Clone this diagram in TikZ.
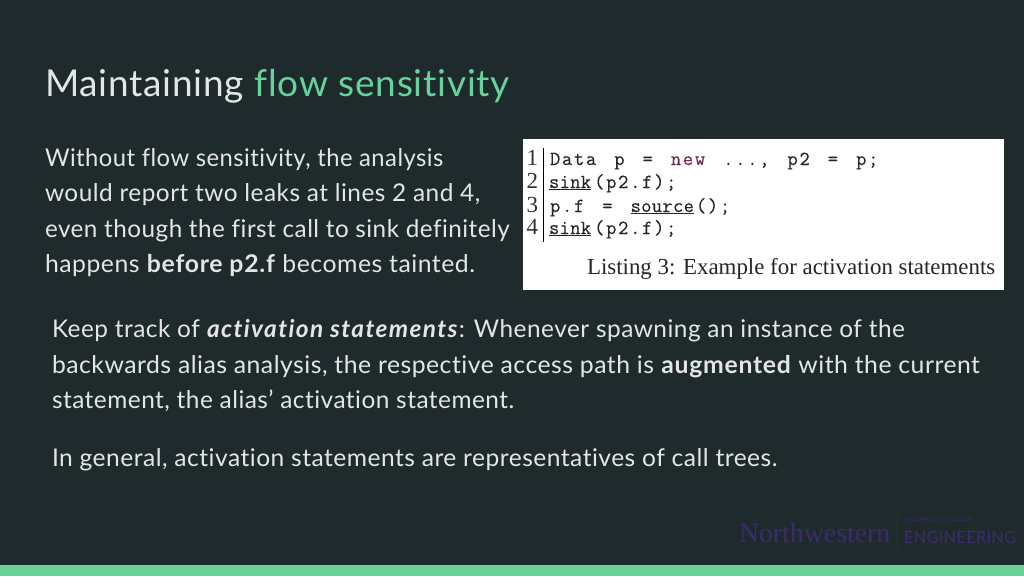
\documentclass[tikz,border=0pt]{standalone}
\usepackage{fontspec}
\setmainfont{Lato}[LetterSpace=2.0,Ligatures=CommonOff,BoldFeatures={LetterSpace=3.0},BoldItalicFeatures={LetterSpace=5.7}]
\newfontfamily\titlefont{Lato}[LetterSpace=2.1,Ligatures=CommonOff]
\newfontfamily\codefont{Latin Modern Mono}[LetterSpace=8.5,WordSpace=1.5,FakeBold=0.25]
\newfontfamily\sinkfont{Latin Modern Mono}[LetterSpace=1.5,FakeBold=0.25]
\newfontfamily\capfont{Liberation Serif}
\usepackage{tikz}
\usetikzlibrary{positioning}
\definecolor{slidebg}{HTML}{1F2A2C}
\definecolor{bodytext}{HTML}{E4E6E6}
\definecolor{accent}{HTML}{68D29B}
\definecolor{keyword}{HTML}{6E2A55}
\definecolor{logopurple}{HTML}{3E2A6E}
\newcommand{\apicall}[1]{\underline{{\sinkfont #1}}}
\tikzset{
	x=1pt, y=-1pt,
	every node/.style={inner sep=0pt, outer sep=0pt},
	titletext/.style={anchor=base west, text=bodytext, font=\titlefont\fontsize{37}{37}\selectfont},
	bodyline/.style={anchor=base west, text=bodytext, font=\fontsize{24.4}{24}\selectfont},
	codeline/.style={anchor=base west, text=black!85, font=\codefont\fontsize{20}{20}\selectfont},
	linenum/.style={anchor=base east, text=black!80, font=\capfont\fontsize{23}{23}\selectfont},
}
\begin{document}
\begin{tikzpicture}
	\useasboundingbox (0,0) rectangle (1024,576);
	\fill[slidebg] (0,0) rectangle (1024,576);
	\fill[accent] (0,565) rectangle (1024,576);
	% heading
	\node[titletext] (title) at (45,96) {Maintaining \textcolor{accent}{flow sensitivity}};
	% left column
	\node[bodyline, xscale=0.975] (left1) at (45,166) {Without flow sensitivity, the analysis};
	\node[bodyline] (left2) at (45,201) {would report two leaks at lines 2 and 4,};
	\node[bodyline, xscale=0.994] (left3) at (45,237) {even though the first call to sink definitely};
	\node[bodyline, xscale=1.016] (left4) at (45,272) {happens \textbf{before p2.f} becomes tainted.};
	% listing
	\fill[white] (523,139) rectangle (1004,290);
	\draw[black, line width=1pt] (543,148) -- (543,242);
	\node[linenum] (num1) at (538,165) {1};
	\node[linenum] (num2) at (538,188) {2};
	\node[linenum] (num3) at (538,212) {3};
	\node[linenum] (num4) at (538,234) {4};
	\node[codeline] (code1) at (550,165) {Data p = \textcolor{keyword}{new} ..., p2 = p;};
	\node[codeline] (code2) at (549,188) {\apicall{sink}\hspace{3pt}(p2.f);};
	\node[codeline] (code3) at (550,212) {p.f = \apicall{source}\hspace{2pt}();};
	\node[codeline] (code4) at (549,234) {\apicall{sink}\hspace{3pt}(p2.f);};
	\node[anchor=base west, text=black!85, font=\capfont\fontsize{22.9}{23}\selectfont] (caption) at (587,274) {Listing 3: Example for activation statements};
	% lower text
	\node[bodyline] (low1) at (52,337) {Keep track of \textbf{\itshape activation statements}: Whenever spawning an instance of the};
	\node[bodyline, xscale=1.014] (low2) at (52,373) {backwards alias analysis, the respective access path is \textbf{augmented} with the current};
	\node[bodyline] (low3) at (52,408) {statement, the alias’ activation statement.};
	\node[bodyline, xscale=1.007] (low4) at (52,466) {In general, activation statements are representatives of call trees.};
	% logo
	\node[anchor=base west, text=logopurple, font=\capfont\fontsize{27.8}{28}\selectfont] (logoname) at (739,542) {Northwestern};
	\draw[logopurple!60!slidebg, line width=0.6pt] (897,516) -- (897,548);
	\node[anchor=base west, text=logopurple, font=\fontsize{5.5}{6}\selectfont] (logoschool) at (904,521) {McCORMICK SCHOOL OF};
	\node[anchor=base west, text=logopurple, font=\fontsize{17}{17}\selectfont, xscale=0.96] (logoeng) at (904,543) {ENGINEERING};
\end{tikzpicture}
\end{document}
